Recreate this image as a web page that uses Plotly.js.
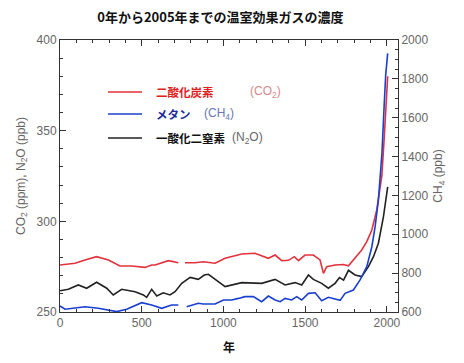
<!DOCTYPE html>
<html>
<head>
<meta charset="utf-8">
<script src="https://cdn.plot.ly/plotly-3.0.1.min.js"></script>
<style>html,body{margin:0;padding:0;background:#fff;}#chart{width:464px;height:363px;}</style>
</head>
<body>
<div id="chart"></div>
<script>
const co2Years = [0,92,153,224,296,367,439,520,561,582,663,724,745,765,826,877,949,1010,1112,1193,1275,1316,1357,1398,1434,1459,1499,1550,1591,1612,1632,1683,1734,1765,1805,1846,1877,1908,1938,1958,1969,1983,1993,2005];
const co2 = [275.9,276.9,278.7,280.5,278.7,275.4,275.4,274.6,275.9,275.9,278.3,277.2,null,277.2,277.2,277.7,276.9,279.6,282,282.4,279.6,281.4,278.3,278.5,280.5,278.3,281.4,281.4,278.7,271.3,275,275.9,276.2,275.5,279.6,284.2,288.8,295.2,306.3,317.3,325,345,363,380];

const ch4Years = [0,31,153,234,347,408,500,561,622,683,724,745,775,846,877,949,1000,1051,1091,1132,1183,1234,1275,1316,1347,1377,1418,1448,1479,1520,1561,1601,1642,1683,1714,1744,1795,1836,1877,1908,1928,1948,1958,1970,1983,1993,2005];
const ch4 = [631,614,627,619,602,614,648,636,619,636,636,null,627,645,641,641,662,662,670,679,679,653,682,662,653,670,662,679,662,696,699,658,676,667,660,696,713,765,833,936,1039,1176,1279,1420,1657,1823,1931];

const n2oYears = [0,51,112,163,224,286,326,377,459,510,530,561,592,632,673,704,745,796,846,883,908,949,1010,1112,1193,1234,1316,1377,1438,1479,1520,1550,1601,1642,1683,1710,1735,1765,1805,1846,1887,1918,1948,1979,2005];
const n2o = [261.7,262.5,264.9,263.1,266.4,263.1,259.4,262.5,261.2,259.4,258.1,262.5,258.8,260.6,259.4,261.2,265.8,269.1,268,270.4,270.8,268,264,266.2,266.2,265.8,268,264.9,266.2,264.9,270.4,268,265.8,263.1,265.8,269,267.6,273,270.4,269.5,275,280.5,287.9,302.6,319];

const titleText = '0年から2005年までの温室効果ガスの濃度';
const legendNames = ['二酸化炭素','メタン','一酸化二窒素'];
const legendFormulas = ['(CO<sub>2</sub>)','(CH<sub>4</sub>)','(N<sub>2</sub>O)'];

const cRed = '#e2323c', cBlue = '#1a3fd0', cBlack = '#222222';
const tickFont = {family:'Liberation Sans, Arial, sans-serif', size:12, color:'#666'};
const jp = 'Noto Sans CJK JP, sans-serif';

const traces = [
  {x:co2Years, y:co2, type:'scatter', mode:'lines', line:{color:cRed, width:1.6}, connectgaps:false, yaxis:'y'},
  {x:ch4Years, y:ch4, type:'scatter', mode:'lines', line:{color:cBlue, width:1.6}, connectgaps:false, yaxis:'y2'},
  {x:n2oYears, y:n2o, type:'scatter', mode:'lines', line:{color:cBlack, width:1.6}, connectgaps:false, yaxis:'y'}
];

function py(pix){ return (312 - pix)/272; }
function px(pix){ return (pix - 60)/338; }

const legY = [92, 114, 138];
const legColors = [cRed, cBlue, cBlack];
const nameColors = ['#e02020', '#1a2a9a', '#111'];
const formColors = ['#d48a8a', '#6a78b4', '#666'];
const formX = [248, 202, 230];

const shapes = legY.map((y,i)=>({type:'line', xref:'paper', yref:'paper', x0:px(108), x1:px(142), y0:py(y), y1:py(y), line:{color:legColors[i], width:1.6}}));
const annotations = [];
legY.forEach((y,i)=>{
  annotations.push({xref:'paper', yref:'paper', x:px(154), y:py(y), xanchor:'left', yanchor:'middle', showarrow:false, text:'<b>'+legendNames[i]+'</b>', font:{family:jp, size:11.5, color:nameColors[i]}});
  annotations.push({xref:'paper', yref:'paper', x:px(formX[i]), y:py(y), xanchor:'left', yanchor:'middle', showarrow:false, text:legendFormulas[i], font:{family:'Liberation Sans, Arial, sans-serif', size:12, color:formColors[i]}});
});

const layout = {
  width:464, height:363,
  margin:{l:60, r:66, t:40, b:51},
  paper_bgcolor:'#fff', plot_bgcolor:'#fff',
  showlegend:false,
  title:{text:'<b>'+titleText+'</b>', x:0.475, xref:'container', xanchor:'center', y:0.952, yref:'container', yanchor:'middle', font:{family:jp, size:13, color:'#111'}},
  xaxis:{range:[0,2068], tickmode:'array', tickvals:[0,500,1000,1500,2000], ticks:'inside', ticklen:6, tickcolor:'#333',
    minor:{dtick:100, tick0:0, ticks:'inside', ticklen:3, tickcolor:'#333'},
    showline:true, linecolor:'#333', linewidth:1, mirror:'ticks', showgrid:false, zeroline:false, tickfont:tickFont,
    title:{text:'<b>年</b>', font:{family:jp, size:12, color:'#111'}, standoff:14}},
  yaxis:{range:[250,400], tickvals:[250,300,350,400], ticks:'inside', ticklen:6, tickcolor:'#333',
    minor:{dtick:10, tick0:250, ticks:'inside', ticklen:3, tickcolor:'#333'},
    showline:true, linecolor:'#333', linewidth:1, showgrid:false, zeroline:false, tickfont:tickFont,
    title:{text:'CO<sub>2</sub> (ppm), N<sub>2</sub>O (ppb)', font:{family:'Liberation Sans, Arial, sans-serif', size:12, color:'#666'}, standoff:8}},
  yaxis2:{range:[600,2000], overlaying:'y', side:'right', tickvals:[600,800,1000,1200,1400,1600,1800,2000], ticks:'inside', ticklen:6, tickcolor:'#333',
    minor:{dtick:50, tick0:600, ticks:'inside', ticklen:3, tickcolor:'#333'},
    showline:true, linecolor:'#333', linewidth:1, showgrid:false, zeroline:false, tickfont:tickFont,
    title:{text:'CH<sub>4</sub> (ppb)', font:{family:'Liberation Sans, Arial, sans-serif', size:12, color:'#666'}, standoff:6}},
  shapes:shapes,
  annotations:annotations
};

Plotly.newPlot('chart', traces, layout, {displayModeBar:false, staticPlot:true});
</script>
</body>
</html>
